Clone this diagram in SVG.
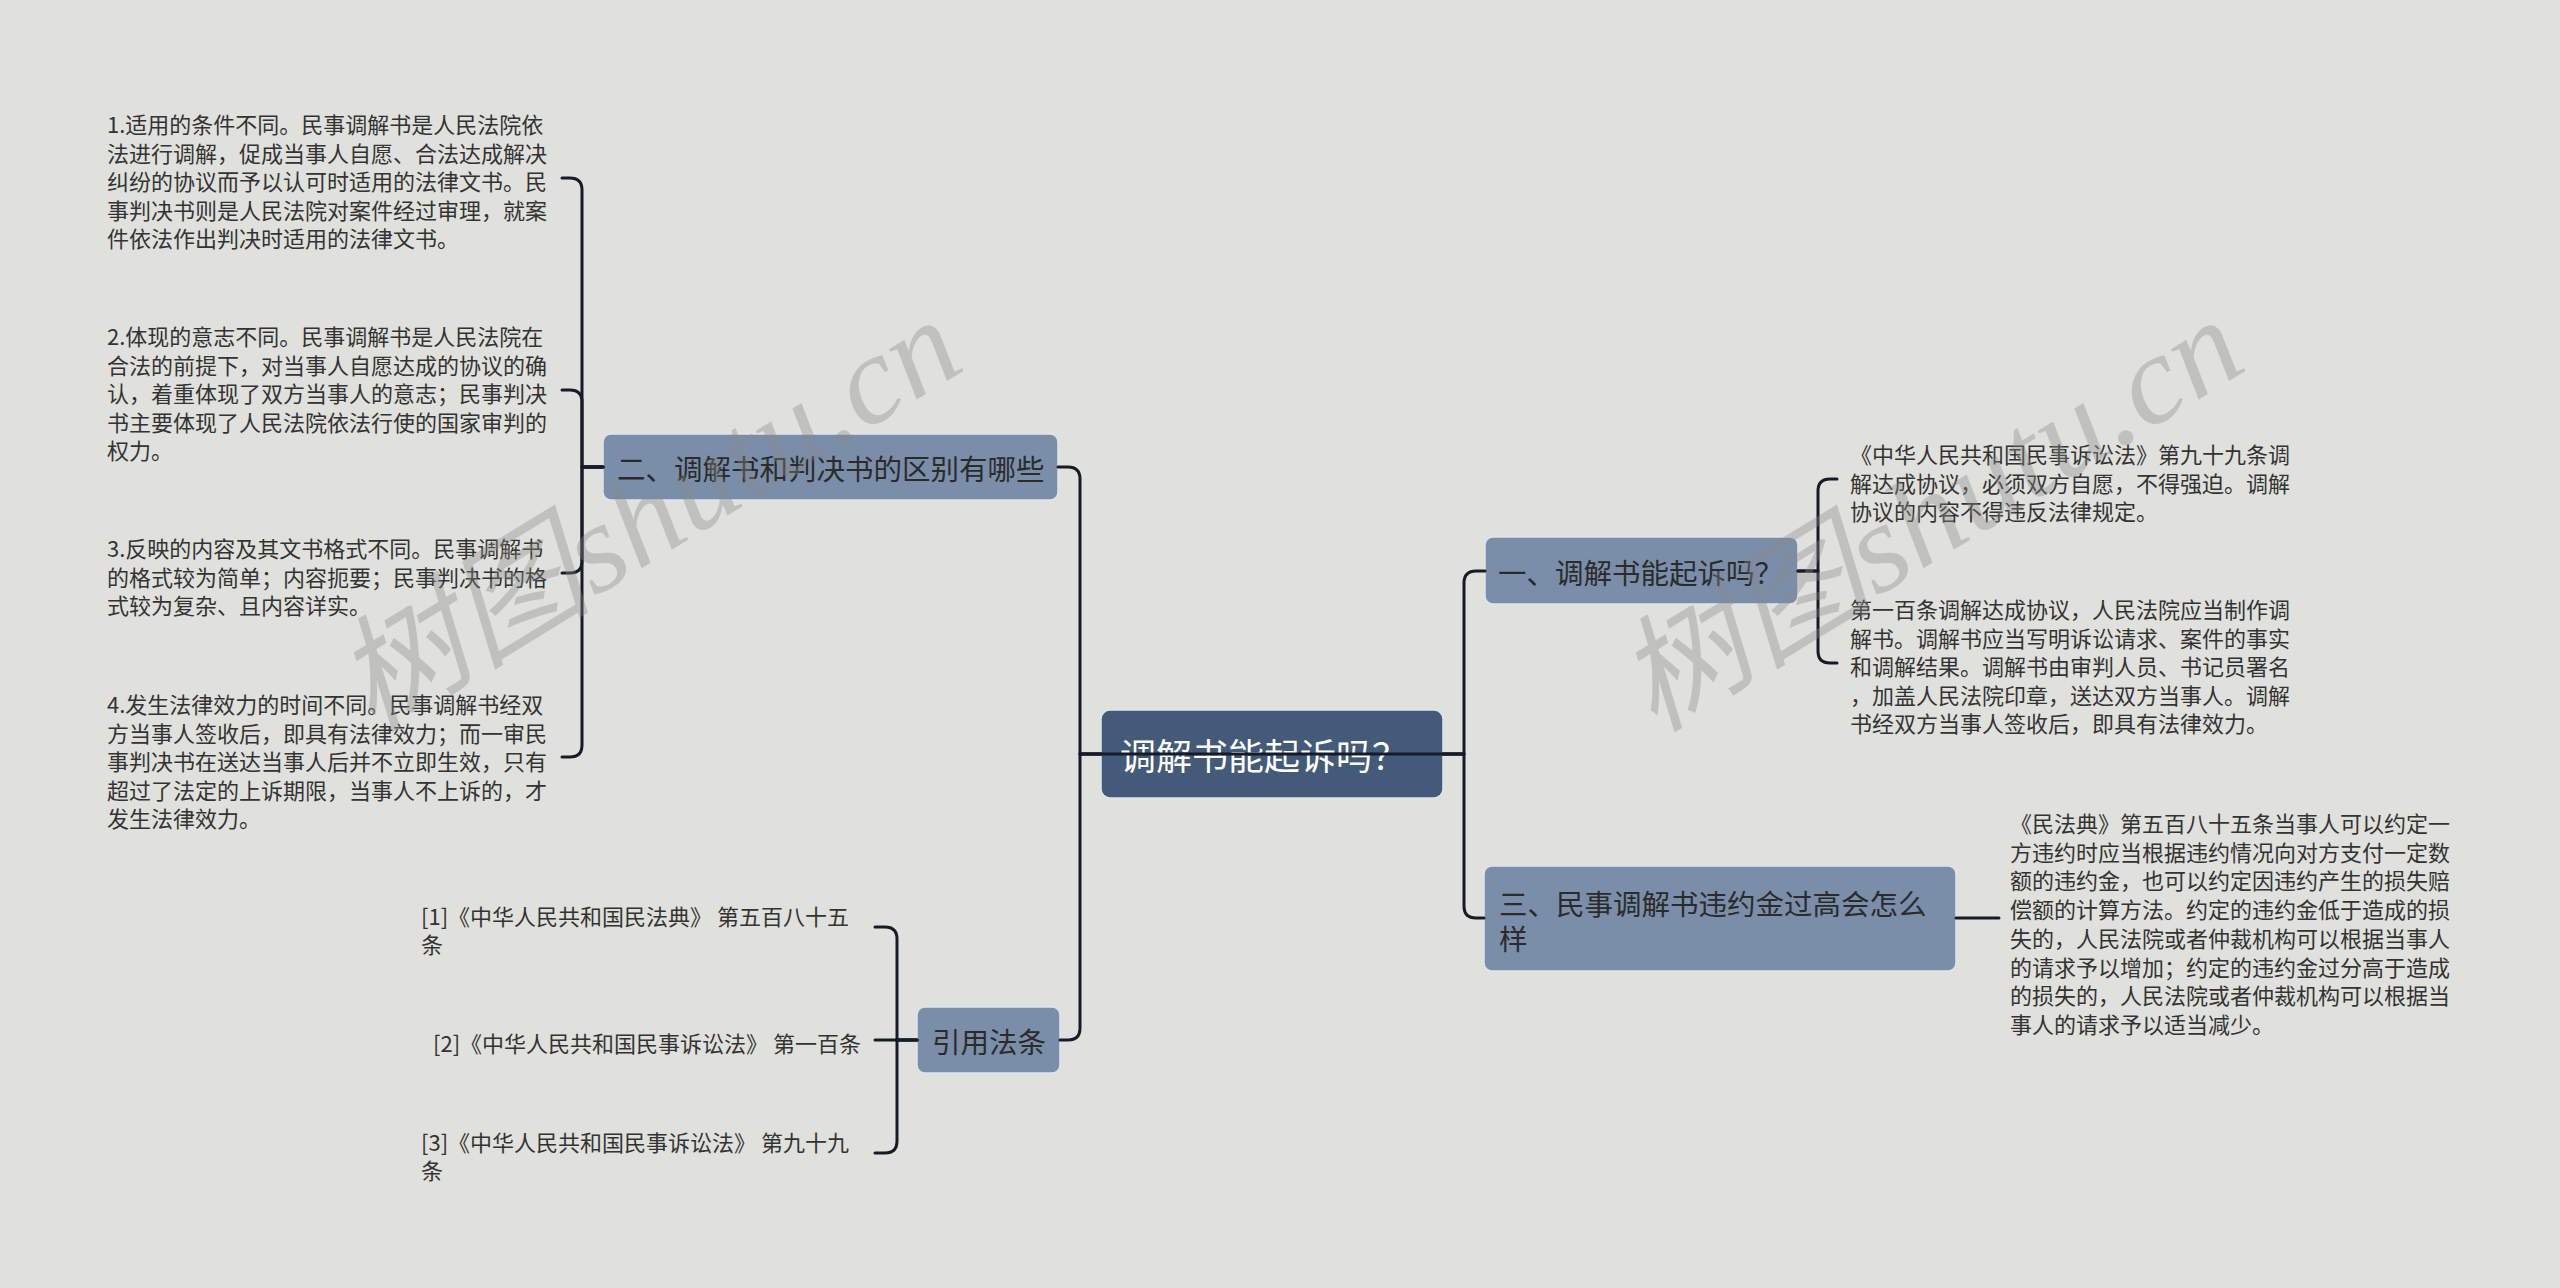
<svg xmlns="http://www.w3.org/2000/svg" width="2560" height="1288" viewBox="0 0 2560 1288">
<style>
.bg{fill:#e0e1dc}
.root{fill:#435a79;stroke:#dfe5ee;stroke-width:1.5}
.sub{fill:#7a8eaa;stroke:#dfe5ee;stroke-width:1.5}
.rt{font-family:"Noto Sans CJK SC","Noto Sans",sans-serif;font-size:36px;fill:#ffffff;dominant-baseline:central}
.st{font-family:"Noto Sans CJK SC","Noto Sans",sans-serif;font-size:28.5px;fill:#2b2b2b;dominant-baseline:central}
.lt{font-family:"Noto Sans CJK SC","Noto Sans",sans-serif;font-size:22px;fill:#333333;dominant-baseline:central}
.con path{fill:none;stroke:#151b27;stroke-width:3;stroke-linecap:round;stroke-linejoin:round}
.wm{font-family:"Liberation Serif","Noto Sans CJK SC",serif;font-style:italic;font-size:125px;fill:#8a8a8a;opacity:0.36;dominant-baseline:central;text-anchor:middle}
</style>
<rect class="bg" x="0" y="0" width="2560" height="1288"/>

<g id="root">
<rect class="root" x="1101" y="710" width="342" height="88" rx="9"/>
<text class="rt" x="1120" y="754">调解书能起诉吗？</text>
</g>

<g id="n2">
<rect class="sub" x="603" y="434" width="455" height="66" rx="8"/>
<text class="st" x="617" y="467">二、调解书和判决书的区别有哪些</text>
</g>
<g id="n2-1">
<text class="lt" x="107"><tspan x="107" y="123">1.适用的条件不同。民事调解书是人民法院依</tspan><tspan x="107" y="151.5">法进行调解，促成当事人自愿、合法达成解决</tspan><tspan x="107" y="180">纠纷的协议而予以认可时适用的法律文书。民</tspan><tspan x="107" y="208.5">事判决书则是人民法院对案件经过审理，就案</tspan><tspan x="107" y="237">件依法作出判决时适用的法律文书。</tspan></text>
</g>
<g id="n2-2">
<text class="lt" x="107"><tspan x="107" y="335">2.体现的意志不同。民事调解书是人民法院在</tspan><tspan x="107" y="363.5">合法的前提下，对当事人自愿达成的协议的确</tspan><tspan x="107" y="392">认，着重体现了双方当事人的意志；民事判决</tspan><tspan x="107" y="420.5">书主要体现了人民法院依法行使的国家审判的</tspan><tspan x="107" y="449">权力。</tspan></text>
</g>
<g id="n2-3">
<text class="lt" x="107"><tspan x="107" y="547">3.反映的内容及其文书格式不同。民事调解书</tspan><tspan x="107" y="575.5">的格式较为简单；内容扼要；民事判决书的格</tspan><tspan x="107" y="604">式较为复杂、且内容详实。</tspan></text>
</g>
<g id="n2-4">
<text class="lt" x="107"><tspan x="107" y="703">4.发生法律效力的时间不同。民事调解书经双</tspan><tspan x="107" y="731.5">方当事人签收后，即具有法律效力；而一审民</tspan><tspan x="107" y="760">事判决书在送达当事人后并不立即生效，只有</tspan><tspan x="107" y="788.5">超过了法定的上诉期限，当事人不上诉的，才</tspan><tspan x="107" y="817">发生法律效力。</tspan></text>
</g>

<g id="n4">
<rect class="sub" x="917" y="1007" width="143" height="66" rx="8"/>
<text class="st" x="932" y="1040">引用法条</text>
</g>
<g id="n4-1">
<text class="lt" x="421"><tspan x="421" y="915">[1]《中华人民共和国民法典》 第五百八十五</tspan><tspan x="421" y="943">条</tspan></text>
</g>
<g id="n4-2">
<text class="lt" x="433" y="1042">[2]《中华人民共和国民事诉讼法》 第一百条</text>
</g>
<g id="n4-3">
<text class="lt" x="421"><tspan x="421" y="1141">[3]《中华人民共和国民事诉讼法》 第九十九</tspan><tspan x="421" y="1169">条</tspan></text>
</g>

<g id="n1">
<rect class="sub" x="1485" y="537" width="313" height="67" rx="8"/>
<text class="st" x="1498" y="571">一、调解书能起诉吗？</text>
</g>
<g id="n1-1">
<text class="lt" x="1850"><tspan x="1850" y="453">《中华人民共和国民事诉讼法》第九十九条调</tspan><tspan x="1850" y="481.5">解达成协议，必须双方自愿，不得强迫。调解</tspan><tspan x="1850" y="510">协议的内容不得违反法律规定。</tspan></text>
</g>
<g id="n1-2">
<text class="lt" x="1850"><tspan x="1850" y="608">第一百条调解达成协议，人民法院应当制作调</tspan><tspan x="1850" y="636.5">解书。调解书应当写明诉讼请求、案件的事实</tspan><tspan x="1850" y="665">和调解结果。调解书由审判人员、书记员署名</tspan><tspan x="1850" y="693.5">，加盖人民法院印章，送达双方当事人。调解</tspan><tspan x="1850" y="722">书经双方当事人签收后，即具有法律效力。</tspan></text>
</g>

<g id="n3">
<rect class="sub" x="1484" y="866" width="472" height="105" rx="8"/>
<text class="st" x="1499"><tspan x="1499" y="902">三、民事调解书违约金过高会怎么</tspan><tspan x="1499" y="937">样</tspan></text>
</g>
<g id="n3-1">
<text class="lt" x="2010"><tspan x="2010" y="822">《民法典》第五百八十五条当事人可以约定一</tspan><tspan x="2010" y="850.7">方违约时应当根据违约情况向对方支付一定数</tspan><tspan x="2010" y="879.4">额的违约金，也可以约定因违约产生的损失赔</tspan><tspan x="2010" y="908.1">偿额的计算方法。约定的违约金低于造成的损</tspan><tspan x="2010" y="936.8">失的，人民法院或者仲裁机构可以根据当事人</tspan><tspan x="2010" y="965.5">的请求予以增加；约定的违约金过分高于造成</tspan><tspan x="2010" y="994.2">的损失的，人民法院或者仲裁机构可以根据当</tspan><tspan x="2010" y="1023">事人的请求予以适当减少。</tspan></text>
</g>

<g id="connectors" class="con">
<path d="M1101 754 H1080 V479 Q1080 467 1068 467 H1058"/>
<path d="M1101 754 H1080 V1028 Q1080 1040 1068 1040 H1060"/>
<path d="M1080 754 H1464"/>
<path d="M1443 754 H1464 V583 Q1464 571 1476 571 H1485"/>
<path d="M1443 754 H1464 V906 Q1464 918 1476 918 H1484"/>
<path d="M603 467 H582 V190 Q582 178 570 178 H562"/>
<path d="M603 467 H582 V402 Q582 390 570 390 H562"/>
<path d="M603 467 H582 V561 Q582 573 570 573 H562"/>
<path d="M603 467 H582 V745 Q582 757 570 757 H562"/>
<path d="M917 1040 H897 V939 Q897 927 885 927 H875"/>
<path d="M917 1040 H875"/>
<path d="M917 1040 H897 V1141 Q897 1153 885 1153 H875"/>
<path d="M1798 571 H1818 V491 Q1818 479 1830 479 H1837"/>
<path d="M1798 571 H1818 V651 Q1818 663 1830 663 H1837"/>
<path d="M1956 918 H1999"/>
</g>

<g id="watermarks">
<text class="wm" x="648" y="515" textLength="700" lengthAdjust="spacingAndGlyphs" transform="rotate(-31.5 648 515)">树图shutu.cn</text>
<text class="wm" x="1930" y="515" textLength="700" lengthAdjust="spacingAndGlyphs" transform="rotate(-31.5 1930 515)">树图shutu.cn</text>
</g>
</svg>
